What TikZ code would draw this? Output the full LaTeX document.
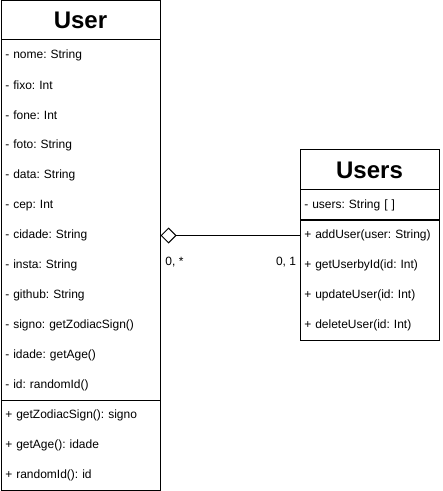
\documentclass[tikz,border=0pt]{standalone}
\usepackage{fontspec}
\setmainfont{Liberation Sans}
\usetikzlibrary{arrows.meta}
\frenchspacing

\tikzset{
	classhead/.style={draw, rectangle, line width=0.75pt, inner sep=0pt, font=\bfseries\fontsize{18}{21}\selectfont},
	compart/.style={draw, rectangle, line width=0.75pt, inner sep=0pt},
	row/.style={rectangle, anchor=west, align=left, inner xsep=3pt, inner ysep=0pt, minimum height=22.5pt, font=\fontsize{9}{11}\selectfont},
	mult/.style={font=\fontsize{9}{11}\selectfont, inner sep=1pt}
}

\begin{document}
\begin{tikzpicture}[x=0.75pt, y=-0.75pt]
	\useasboundingbox (0,0) rectangle (442,491);
	
	% class User
	\node[classhead, minimum width=119.25pt, minimum height=29.25pt] (userhead) at (80.5,20.5) {User};
	\node[compart, minimum width=119.25pt, minimum height=270pt] (userattr) at (80.5,220) {};
	\node[compart, minimum width=119.25pt, minimum height=67.5pt] (usermeth) at (80.5,445) {};
	
	\foreach \nm/\txt [count=\i from 0] in {nome/{- nome: String}, fixo/{- fixo: Int}, fone/{- fone: Int}, foto/{- foto: String}, data/{- data: String}, cep/{- cep: Int}, cidade/{- cidade: String}, insta/{- insta: String}, github/{- github: String}, signo/{- signo: getZodiacSign()}, idade/{- idade: getAge()}, id/{- id: randomId()}}
		\node[row, text width=113.25pt] (\nm) at (1,55.5+30*\i) {\txt};
	
	\foreach \nm/\txt [count=\i from 0] in {getzodiac/{+ getZodiacSign(): signo}, getage/{+ getAge(): idade}, getid/{+ randomId(): id}}
		\node[row, text width=113.25pt] (\nm) at (1,415.5+30*\i) {\txt};
	
	% class Users
	\node[classhead, minimum width=104.25pt, minimum height=30pt] (usershead) at (369.5,170) {Users};
	\node[compart, minimum width=104.25pt, minimum height=22.5pt] (usersattr) at (369.5,205) {};
	\node[compart, minimum width=104.25pt, minimum height=90pt] (usersmeth) at (369.5,280) {};
	
	\node[row, text width=98.25pt] (userslist) at (300,205.5) {- users: String [ ]};
	
	\foreach \nm/\txt [count=\i from 0] in {adduser/{+ addUser(user: String)}, getuser/{+ getUserbyId(id: Int)}, updateuser/{+ updateUser(id: Int)}, deleteuser/{+ deleteUser(id: Int)}}
		\node[row, text width=98.25pt] (\nm) at (300,235.5+30*\i) {\txt};
	
	% aggregation
	\draw[{Diamond[open, fill=white, length=12pt, width=12pt]}-, line width=0.75pt] (cidade.east) -- node[mult, pos=0.1, below=15pt] {0, *} node[mult, pos=0.9, below=15pt] {0, 1} (adduser.west);
\end{tikzpicture}
\end{document}
